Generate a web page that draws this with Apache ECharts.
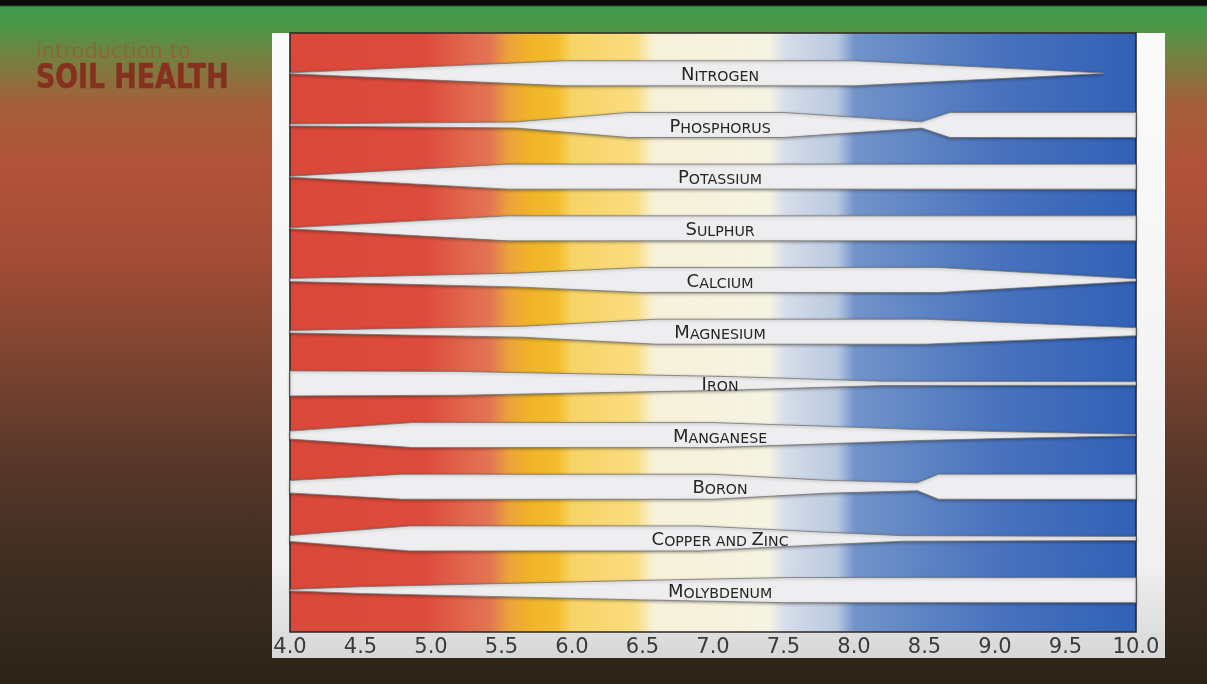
<!DOCTYPE html>
<html>
<head>
<meta charset="utf-8">
<script src="https://cdn.jsdelivr.net/npm/echarts@6/dist/echarts.min.js"></script>
<style>
  html, body { margin: 0; padding: 0; }
  body {
    width: 1207px; height: 684px; overflow: hidden;
    background: linear-gradient(to bottom, #0b0b0b 0px, #0b0b0b 5px, #3f9a4b 7px, #4b9847 26px,
      #7a7d40 62px, #a65e3a 105px, #b2523a 170px, #a34c36 260px, #7c4430 360px,
      #553629 470px, #3c2c20 580px, #30261b 660px, #2c2318 684px);
  }
  #box { width: 1207px; height: 684px; }
</style>
</head>
<body>
<div id="box"></div>
<script>
// soil pH scale
var phTicks = ['4.0', '4.5', '5.0', '5.5', '6.0', '6.5', '7.0', '7.5', '8.0', '8.5', '9.0', '9.5', '10.0'];

var nutrients = ['Nitrogen', 'Phosphorus', 'Potassium', 'Sulphur', 'Calcium', 'Magnesium',
  'Iron', 'Manganese', 'Boron', 'Copper and Zinc', 'Molybdenum'];

// band thickness (1 = fully available) at each pH breakpoint
var nitrogenPh = [4.0, 5.95, 8.0, 9.77];
var nitrogenAvail = [0.04, 1, 1, 0.02];
var phosphorusPh = [4.0, 5.6, 6.4, 7.5, 8.48, 8.68, 10.0];
var phosphorusAvail = [0.08, 0.24, 1, 1, 0.25, 1, 1];
var potassiumPh = [4.0, 5.55, 10.0];
var potassiumAvail = [0.04, 1, 1];
var sulphurPh = [4.0, 5.55, 10.0];
var sulphurAvail = [0.04, 1, 1];
var calciumPh = [4.0, 5.6, 6.5, 8.6, 10.0];
var calciumAvail = [0.12, 0.55, 1, 1, 0.1];
var magnesiumPh = [4.0, 5.65, 6.6, 8.5, 10.0];
var magnesiumAvail = [0.1, 0.44, 1, 1, 0.32];
var ironPh = [4.0, 5.2, 7.1, 8.2, 10.0];
var ironAvail = [1, 0.95, 0.55, 0.17, 0.14];
var manganesePh = [4.0, 4.87, 7.0, 7.8, 8.45, 9.1, 10.0];
var manganeseAvail = [0.32, 1, 1, 0.7, 0.44, 0.26, 0.06];
var boronPh = [4.0, 4.8, 7.0, 7.8, 8.45, 8.6, 10.0];
var boronAvail = [0.5, 1, 1, 0.52, 0.32, 1, 1];
var copperZincPh = [4.0, 4.85, 6.9, 7.75, 8.35, 10.0];
var copperZincAvail = [0.24, 1, 1, 0.52, 0.22, 0.16];
var molybdenumPh = [4.0, 4.5, 5.4, 6.5, 7.5, 10.0];
var molybdenumAvail = [0.06, 0.27, 0.5, 0.78, 1, 1];

var profilePh = [nitrogenPh, phosphorusPh, potassiumPh, sulphurPh, calciumPh, magnesiumPh,
  ironPh, manganesePh, boronPh, copperZincPh, molybdenumPh];
var profileAvail = [nitrogenAvail, phosphorusAvail, potassiumAvail, sulphurAvail, calciumAvail,
  magnesiumAvail, ironAvail, manganeseAvail, boronAvail, copperZincAvail, molybdenumAvail];

var HALF = 0.242;     // half height of a full band, in row units
var LABEL_PH = 7.05;

// background colour along the pH axis
var bgStops = [
  [4.0, '#da4839'], [4.95, '#dc4b3b'], [5.2, '#e0624a'], [5.42, '#e37554'],
  [5.55, '#eca23a'], [5.7, '#f0b328'], [5.9, '#f3bd30'], [6.0, '#f8d366'],
  [6.45, '#fadd80'], [6.58, '#f7f1d9'], [7.4, '#f5f3e2'], [7.52, '#d5dcea'],
  [7.88, '#b9c9e0'], [8.0, '#7394ca'], [8.5, '#5d83c3'], [9.0, '#4a73be'],
  [9.5, '#3d69ba'], [10.0, '#3161b6']
];

function smallCaps(name) {
  return name.split(' ').map(function (w) {
    if (w[0] === w[0].toUpperCase()) {
      return '{c|' + w[0] + '}{s|' + w.slice(1).toUpperCase() + '}';
    }
    return '{s|' + w.toUpperCase() + '}';
  }).join('{s| }');
}

var myChart = echarts.init(document.getElementById('box'), null, {renderer: 'canvas'});

var option = {
  backgroundColor: 'transparent',
  animation: false,
  graphic: [
    {
      type: 'rect', z: -10, silent: true,
      shape: {x: 272, y: 33, width: 893, height: 625},
      style: {
        fill: {type: 'linear', x: 0, y: 0, x2: 0, y2: 1, colorStops: [
          {offset: 0, color: '#fbfbfb'}, {offset: 0.85, color: '#f0f0f0'}, {offset: 1, color: '#d7d7d7'}
        ]}
      }
    },
    {
      type: 'text', x: 36, y: 42, z: 5, silent: true,
      style: {text: 'introduction to', font: '21px "DejaVu Sans"', fill: 'rgba(176,64,44,0.4)'}
    },
    {
      type: 'text', x: 36, y: 62, scaleX: 0.875, z: 5, silent: true,
      style: {
        text: 'SOIL HEALTH', font: 'bold 34px "DejaVu Sans Condensed"',
        fill: '#87301f', stroke: 'rgba(70,20,10,0.5)', lineWidth: 0.6
      }
    }
  ],
  grid: {
    left: 290, right: 71, top: 33, bottom: 52,
    show: true,
    borderColor: '#2f2624', borderWidth: 1.6,
    backgroundColor: {
      type: 'linear', x: 0, y: 0, x2: 1, y2: 0,
      colorStops: bgStops.map(function (s) {
        return {offset: (s[0] - 4) / 6, color: s[1]};
      })
    }
  },
  xAxis: {
    type: 'value', min: 4, max: 10, interval: 0.5,
    axisLine: {show: false}, axisTick: {show: false}, splitLine: {show: false},
    axisLabel: {
      margin: 5, fontSize: 21, color: '#3a3a3a', fontFamily: 'DejaVu Sans',
      showMinLabel: true, showMaxLabel: true,
      formatter: function (v, i) { return phTicks[i]; }
    }
  },
  yAxis: {
    type: 'value', inverse: true, min: -0.78, max: 10.81, show: false
  },
  series: [
    {
      type: 'custom',
      data: nutrients.map(function (n, i) { return [i]; }),
      renderItem: function (params, api) {
        var i = api.value(0);
        var ph = profilePh[i], av = profileAvail[i];
        var top = [], bot = [];
        for (var k = 0; k < ph.length; k++) {
          top.push(api.coord([ph[k], i - av[k] * HALF]));
          bot.unshift(api.coord([ph[k], i + av[k] * HALF]));
        }
        var lp = api.coord([LABEL_PH, i]);
        return {
          type: 'group',
          children: [
            {
              type: 'polygon',
              shape: {points: top.concat(bot)},
              style: {
                fill: '#eeeef0', stroke: '#767676', lineWidth: 0.8,
                shadowBlur: 3, shadowColor: 'rgba(0,0,0,0.35)', shadowOffsetY: 1
              }
            },
            {
              type: 'text',
              x: lp[0], y: lp[1] + 1,
              style: {
                text: smallCaps(nutrients[i]),
                align: 'center', verticalAlign: 'middle',
                rich: {
                  c: {fontSize: 18, fontFamily: 'DejaVu Sans', fill: '#262626', color: '#262626', lineHeight: 20, verticalAlign: 'bottom'},
                  s: {fontSize: 14.2, fontFamily: 'DejaVu Sans', fill: '#262626', color: '#262626', lineHeight: 20, verticalAlign: 'bottom'}
                }
              }
            }
          ]
        };
      }
    }
  ]
};
myChart.setOption(option);
</script>
</body>
</html>
